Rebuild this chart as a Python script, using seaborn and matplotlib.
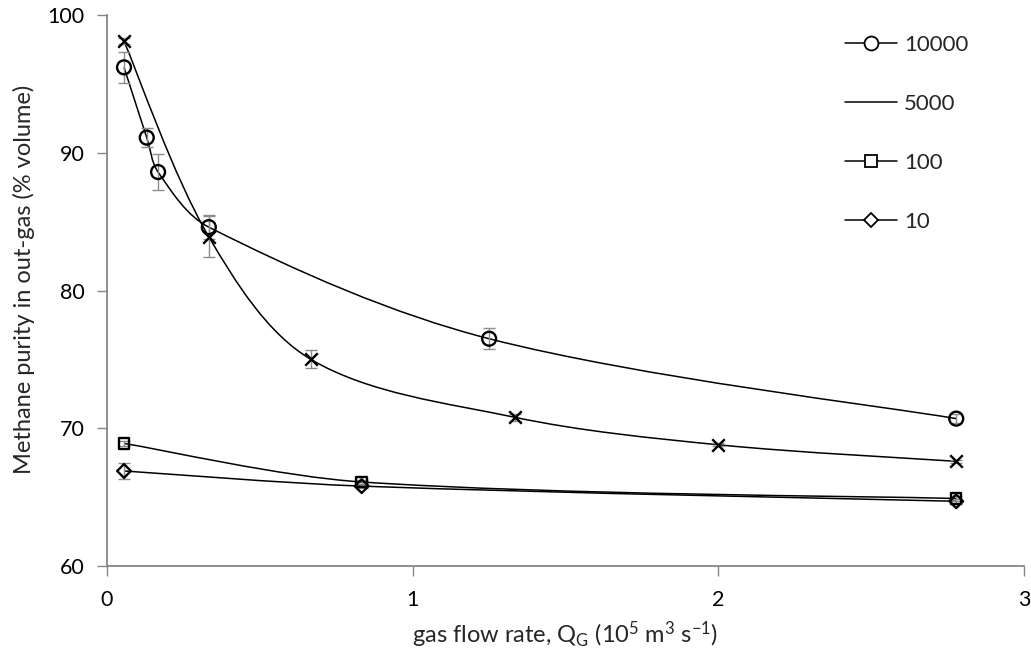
import numpy as np
import matplotlib
matplotlib.use("Agg")
import matplotlib.pyplot as plt
from matplotlib.path import Path
from matplotlib.patches import PathPatch
from matplotlib.lines import Line2D
import seaborn as sns

# Gas flow rate (10^5 m3/s) and methane purity (% volume) per series
x_10000 = [0.0556, 0.13, 0.167, 0.333, 1.25, 2.778]
y_10000 = [96.2, 91.1, 88.6, 84.6, 76.5, 70.7]
e_10000 = [1.1, 0.7, 1.3, 0.85, 0.75, 0.3]

x_5000 = [0.0556, 0.333, 0.667, 1.333, 2.0, 2.778]
y_5000 = [98.1, 83.9, 75.0, 70.8, 68.8, 67.6]
e_5000 = [0.2, 1.5, 0.65, 0.25, 0.1, 0.1]

x_100 = [0.0556, 0.833, 2.778]
y_100 = [68.9, 66.1, 64.9]
e_100 = [0.2, 0.15, 0.2]

x_10 = [0.0556, 0.833, 2.778]
y_10 = [66.9, 65.8, 64.7]
e_10 = [0.6, 0.15, 0.2]

series_labels = ["10000", "5000", "100", "10"]

sns.set_theme(style="white")
plt.rcParams["font.family"] = ["Lato", "DejaVu Sans"]
plt.rcParams["mathtext.default"] = "regular"

fig = plt.figure(figsize=(10.31, 6.61), dpi=100)
ax = fig.add_axes([0.1038, 0.1437, 0.8895, 0.8336])
ax.set_xlim(0, 3)
ax.set_ylim(60, 100)

GRAY = "#868686"


def smooth_curve(xs, ys):
    """Cubic Bezier spline through the points, tangents scaled by
    on-screen chord length so uneven spacing stays smooth."""
    pts = np.column_stack([xs, ys]).astype(float)
    disp = ax.transData.transform(pts)
    seg = np.hypot(*np.diff(disp, axis=0).T)
    t = np.concatenate([[0.0], np.cumsum(seg)])
    n = len(pts)
    m = np.zeros_like(pts)
    for i in range(n):
        if i == 0:
            m[i] = 0.5 * (pts[1] - pts[0]) / (t[1] - t[0])
        elif i == n - 1:
            m[i] = 0.5 * (pts[-1] - pts[-2]) / (t[-1] - t[-2])
        else:
            m[i] = (pts[i + 1] - pts[i - 1]) / (t[i + 1] - t[i - 1])
    verts = [pts[0]]
    codes = [Path.MOVETO]
    for i in range(n - 1):
        h = t[i + 1] - t[i]
        verts += [pts[i] + m[i] * h / 3.0, pts[i + 1] - m[i + 1] * h / 3.0,
                  pts[i + 1]]
        codes += [Path.CURVE4] * 3
    return Path(verts, codes)


data = [
    (x_10000, y_10000, e_10000, "o", 10),
    (x_5000, y_5000, e_5000, "x", 9),
    (x_100, y_100, e_100, "s", 7.5),
    (x_10, y_10, e_10, "D", 7),
]

for xs, ys, es, mk, ms in data:
    ax.add_patch(PathPatch(smooth_curve(xs, ys), facecolor="none",
                           edgecolor="black", lw=1.1, zorder=2))
    ax.errorbar(xs, ys, yerr=es, fmt="none", ecolor="#8c8c8c",
                elinewidth=1.0, capsize=4.5, capthick=1.0, zorder=3)
    if mk == "x":
        sns.scatterplot(x=xs, y=ys, marker="x", s=ms ** 2, color="black",
                        linewidth=1.7, ax=ax, zorder=4)
    else:
        sns.scatterplot(x=xs, y=ys, marker=mk, s=ms ** 2, facecolor="none",
                        edgecolor="black", linewidth=1.7, ax=ax, zorder=4)

ax.set_xlim(0, 3)
ax.set_ylim(60, 100)
ax.set_xticks([0, 1, 2, 3])
ax.set_yticks([60, 70, 80, 90, 100])

for side in ["top", "right"]:
    ax.spines[side].set_visible(False)
for side in ["left", "bottom"]:
    ax.spines[side].set_color(GRAY)
    ax.spines[side].set_linewidth(1.3)

ax.tick_params(axis="both", which="major", direction="out", length=7,
               width=1.0, color=GRAY, labelsize=15.5, labelcolor="black",
               left=True, bottom=True)
ax.tick_params(axis="y", pad=9)
ax.tick_params(axis="x", pad=10)

ax.set_xlabel("gas flow rate, Q$_G$ (10$^5$ m$^3$ s$^{-1}$)", fontsize=17,
              labelpad=7)
ax.set_ylabel("Methane purity in out-gas (% volume)", fontsize=17,
              labelpad=9)
ax.yaxis.label.set_y(0.52)

handles = [
    Line2D([], [], color="black", lw=1.1, marker="o", markersize=10,
           markerfacecolor="white", markeredgecolor="black",
           markeredgewidth=1.3),
    Line2D([], [], color="black", lw=1.1),
    Line2D([], [], color="black", lw=1.1, marker="s", markersize=8,
           markerfacecolor="white", markeredgecolor="black",
           markeredgewidth=1.3),
    Line2D([], [], color="black", lw=1.1, marker="D", markersize=7,
           markerfacecolor="white", markeredgecolor="black",
           markeredgewidth=1.3),
]
ax.legend(handles, series_labels, loc="upper left", frameon=False,
          fontsize=16, labelspacing=1.75, handlelength=2.35,
          handletextpad=0.3, borderpad=0, borderaxespad=0,
          bbox_to_anchor=(845 / 1031, 1 - 35 / 661),
          bbox_transform=fig.transFigure)

fig.savefig("out.png", dpi=100)
